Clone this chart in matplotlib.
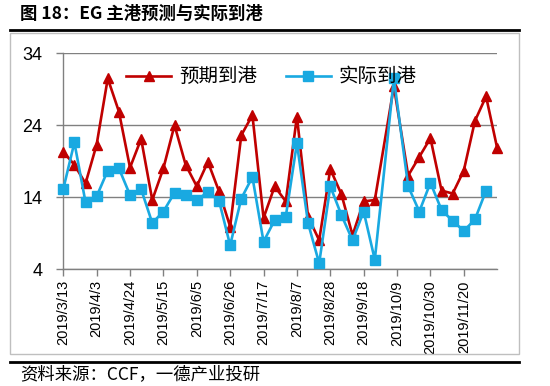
import matplotlib
matplotlib.use("Agg")
import matplotlib.pyplot as plt
from matplotlib.lines import Line2D
from matplotlib.patches import Rectangle
import numpy as np
import pandas as pd

plt.rcParams['font.family'] = ['Noto Sans CJK SC', 'DejaVu Sans']

# weekly port arrival data (10k t)
dates = ["2019-03-13", "2019-03-20", "2019-03-27", "2019-04-03", "2019-04-10",
         "2019-04-17", "2019-04-24", "2019-05-01", "2019-05-08", "2019-05-15",
         "2019-05-22", "2019-05-29", "2019-06-05", "2019-06-12", "2019-06-19",
         "2019-06-26", "2019-07-03", "2019-07-10", "2019-07-17", "2019-07-24",
         "2019-07-31", "2019-08-07", "2019-08-14", "2019-08-21", "2019-08-28",
         "2019-09-04", "2019-09-11", "2019-09-18", "2019-09-25", "2019-10-07",
         "2019-10-16", "2019-10-23", "2019-10-30", "2019-11-06", "2019-11-13",
         "2019-11-20", "2019-11-27", "2019-12-04", "2019-12-11"]
expected = [20.3, 18.5, 15.9, 21.3, 30.5, 25.9, 18.1, 22.1, 13.6, 18.0,
            24.0, 18.5, 15.5, 18.9, 14.8, 9.9, 22.6, 25.4, 11.1, 15.5,
            13.4, 25.2, 11.3, 8.0, 17.9, 14.4, 8.7, 13.4, 13.6, 29.4,
            17.0, 19.6, 22.2, 14.9, 14.5, 17.7, 24.6, 28.0, 20.8]
actual = [15.1, 21.6, 13.3, 14.1, 17.7, 18.0, 14.3, 15.1, 10.4, 12.0,
          14.6, 14.3, 13.6, 14.7, 13.5, 7.3, 13.8, 16.8, 7.8, 10.8,
          11.3, 21.5, 10.4, 4.8, 15.5, 11.5, 8.0, 12.0, 5.3, 30.5,
          15.5, 12.0, 16.0, 12.2, 10.7, 9.3, 10.9, 14.9, np.nan]
tick_dates = pd.date_range("2019-03-13", "2019-11-20", freq="21D")
tick_labels = [f"{d.year}/{d.month}/{d.day}" for d in tick_dates]
y_ticks = [4, 14, 24, 34]

x = pd.to_datetime(dates)

fig = plt.figure(figsize=(5.5, 3.86), dpi=100)
ax = fig.add_axes([0.115, 0.303, 0.789, 0.559])

ax.plot(x, expected, color="#C00000", lw=1.9, marker="^", ms=6.5,
        label="预期到港", zorder=3, clip_on=False)
ax.plot(x, actual, color="#19A9E1", lw=1.9, marker="s", ms=6.5,
        label="实际到港", zorder=4, clip_on=False)

ax.set_ylim(4, 34)
ax.set_yticks(y_ticks)
ax.set_yticklabels([str(v) for v in y_ticks], family=["Liberation Sans", "DejaVu Sans"], fontsize=13)
ax.set_xlim(x[0], x[-1])
ax.set_xticks(tick_dates)
ax.set_xticklabels(tick_labels, rotation=90, fontsize=10.5,
                   family=["Liberation Sans Narrow", "Liberation Sans", "DejaVu Sans"])
ax.tick_params(axis="both", direction="out", length=5, color="#808080", width=1)
ax.tick_params(axis="x", pad=3)
ax.tick_params(axis="y", pad=10)

ax.grid(axis="y", color="#808080", lw=1)
ax.set_axisbelow(True)
for s in ["top", "right"]:
    ax.spines[s].set_visible(False)
for s in ["left", "bottom"]:
    ax.spines[s].set_color("#808080")
    ax.spines[s].set_linewidth(1)

ax.legend(loc="upper center", ncol=2, frameon=False, fontsize=14,
          bbox_to_anchor=(0.48, 1.02), handlelength=2.3, columnspacing=1.5,
          handletextpad=0.4)

# frame and header / footer
fig.add_artist(Rectangle((9.6 / 550, 1 - 354 / 386), (519 - 9.6) / 550, (354 - 33) / 386,
                         transform=fig.transFigure, fill=False, ec="#BFBFBF", lw=1))
fig.add_artist(Line2D([9.6 / 550, 519 / 550], [1 - 29.5 / 386] * 2, color="black", lw=2))
fig.add_artist(Line2D([9.6 / 550, 519 / 550], [1 - 361.5 / 386] * 2, color="black", lw=2))
fig.text(20 / 550, 1 - 14 / 386, "图 18：EG 主港预测与实际到港", fontsize=12.5,
         fontweight="bold", va="center", ha="left")
fig.text(20 / 550, 1 - 374 / 386, "资料来源：CCF，一德产业投研", fontsize=12.5,
         va="center", ha="left")

fig.savefig("out.png", dpi=100)
